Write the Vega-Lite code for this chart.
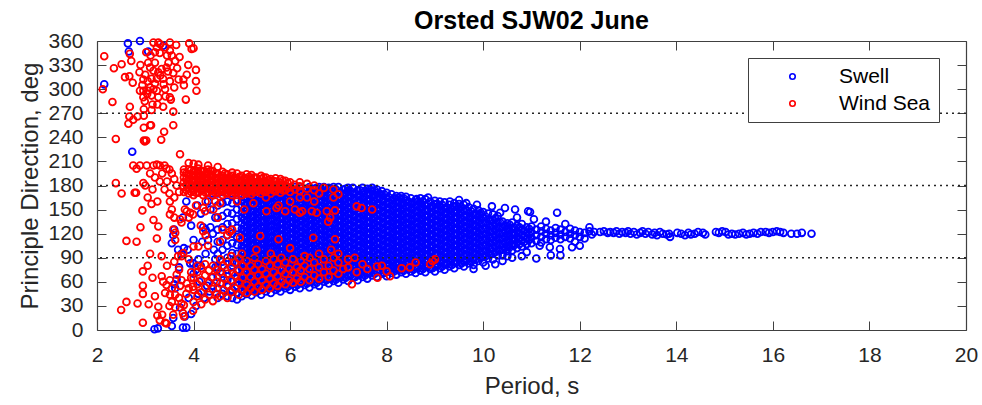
{
"$schema":"https://vega.github.io/schema/vega-lite/v6.json",
"width":869,"height":289,"autosize":"none",
"padding":{"left":97,"top":41,"right":16,"bottom":75},
"background":"white",
"title":{"text":"Orsted SJW02 June","fontSize":25,"fontWeight":"bold","font":"Liberation Sans","color":"#000000","anchor":"middle","offset":6,"dy":10},
"config":{"view":{"stroke":null},"font":"Liberation Sans"},
"datasets":{
"swell":[
{"p":2.64,"d":357},{"p":2.66,"d":347},{"p":2.89,"d":360},{"p":3.06,"d":347},{"p":2.15,"d":306},{"p":2.73,"d":222},{"p":3.37,"d":354},
{"p":3.19,"d":1},{"p":3.26,"d":2},{"p":3.55,"d":5},{"p":3.78,"d":3},{"p":3.85,"d":3},{"p":3.58,"d":15},{"p":3.82,"d":17},{"p":3.72,"d":28},{"p":3.62,"d":52},{"p":3.6,"d":57},{"p":3.65,"d":63},{"p":3.55,"d":108},{"p":3.58,"d":118},{"p":3.6,"d":125},{"p":3.68,"d":100},{"p":3.75,"d":95},{"p":3.8,"d":102},{"p":3.85,"d":160},{"p":3.88,"d":100},{"p":3.93,"d":83},{"p":3.99,"d":83},{"p":4,"d":70},{"p":4.05,"d":75},{"p":4.1,"d":88},{"p":4.15,"d":80},{"p":4.12,"d":60},{"p":4.2,"d":128},{"p":4.25,"d":125},{"p":4.35,"d":128},{"p":4.3,"d":112},{"p":4.18,"d":110},{"p":4.28,"d":55},{"p":4.33,"d":48},{"p":4.4,"d":55},{"p":4.22,"d":40},{"p":4.38,"d":65},{"p":4.45,"d":140},{"p":4.42,"d":100},{"p":4.35,"d":150},{"p":4.3,"d":160},{"p":4.4,"d":170},{"p":4.45,"d":78},{"p":4.15,"d":145},{"p":4.08,"d":155},{"p":3.95,"d":130},{"p":4,"d":112},{"p":3.7,"d":78},{"p":3.9,"d":40},{"p":4.05,"d":30},{"p":3.95,"d":20},{"p":4.1,"d":45},{"p":4.25,"d":95},{"p":4.4,"d":120},{"p":4.45,"d":88},{"p":3.78,"d":140},
{"p":4.5,"d":40},{"p":4.5,"d":52},{"p":4.5,"d":66},{"p":4.5,"d":78},{"p":4.5,"d":95},{"p":4.5,"d":110},{"p":4.5,"d":125},{"p":4.5,"d":140},{"p":4.5,"d":155},{"p":4.5,"d":170},
{"p":4.6,"d":45},{"p":4.6,"d":58},{"p":4.6,"d":70},{"p":4.6,"d":85},{"p":4.6,"d":100},{"p":4.6,"d":112},{"p":4.6,"d":128},{"p":4.6,"d":142},{"p":4.6,"d":158},{"p":4.6,"d":172},
{"p":4.7,"d":42},{"p":4.7,"d":55},{"p":4.7,"d":62},{"p":4.7,"d":75},{"p":4.7,"d":90},{"p":4.7,"d":105},{"p":4.7,"d":118},{"p":4.7,"d":132},{"p":4.7,"d":146},{"p":4.7,"d":160},{"p":4.7,"d":175},
{"p":4.8,"d":40},{"p":4.8,"d":50},{"p":4.8,"d":60},{"p":4.8,"d":72},{"p":4.8,"d":84},{"p":4.8,"d":96},{"p":4.8,"d":108},{"p":4.8,"d":120},{"p":4.8,"d":133},{"p":4.8,"d":145},{"p":4.8,"d":158},{"p":4.8,"d":170},
{"p":4.9,"d":38},{"p":4.9,"d":46},{"p":4.9,"d":55},{"p":4.9,"d":64},{"p":4.9,"d":74},{"p":4.9,"d":84},{"p":4.9,"d":95},{"p":4.9,"d":106},{"p":4.9,"d":116},{"p":4.9,"d":127},{"p":4.9,"d":138},{"p":4.9,"d":150},{"p":4.9,"d":162},{"p":4.9,"d":174},
{"p":5,"d":42},{"p":5,"d":49},{"p":5,"d":56},{"p":5,"d":63},{"p":5,"d":70},{"p":5,"d":77},{"p":5,"d":84},{"p":5,"d":91},{"p":5,"d":98},{"p":5,"d":105},{"p":5,"d":112},{"p":5,"d":119},{"p":5,"d":126},{"p":5,"d":133},{"p":5,"d":140},{"p":5,"d":147},{"p":5,"d":154},{"p":5,"d":161},{"p":5,"d":168},{"p":5,"d":175},
{"p":5.1,"d":45},{"p":5.1,"d":52},{"p":5.1,"d":59},{"p":5.1,"d":66},{"p":5.1,"d":73},{"p":5.1,"d":80},{"p":5.1,"d":87},{"p":5.1,"d":94},{"p":5.1,"d":101},{"p":5.1,"d":108},{"p":5.1,"d":115},{"p":5.1,"d":122},{"p":5.1,"d":129},{"p":5.1,"d":136},{"p":5.1,"d":143},{"p":5.1,"d":150},{"p":5.1,"d":157},{"p":5.1,"d":164},{"p":5.1,"d":171},{"p":5.1,"d":178},
{"p":5.2,"d":43},{"p":5.2,"d":50},{"p":5.2,"d":57},{"p":5.2,"d":64},{"p":5.2,"d":71},{"p":5.2,"d":78},{"p":5.2,"d":85},{"p":5.2,"d":92},{"p":5.2,"d":99},{"p":5.2,"d":106},{"p":5.2,"d":113},{"p":5.2,"d":120},{"p":5.2,"d":127},{"p":5.2,"d":134},{"p":5.2,"d":141},{"p":5.2,"d":148},{"p":5.2,"d":155},{"p":5.2,"d":162},{"p":5.2,"d":169},{"p":5.2,"d":176},
{"p":5.3,"d":47},{"p":5.3,"d":54},{"p":5.3,"d":61},{"p":5.3,"d":68},{"p":5.3,"d":75},{"p":5.3,"d":82},{"p":5.3,"d":89},{"p":5.3,"d":96},{"p":5.3,"d":103},{"p":5.3,"d":110},{"p":5.3,"d":117},{"p":5.3,"d":124},{"p":5.3,"d":131},{"p":5.3,"d":138},{"p":5.3,"d":145},{"p":5.3,"d":152},{"p":5.3,"d":159},{"p":5.3,"d":166},{"p":5.3,"d":173},{"p":5.3,"d":178},
{"p":5.4,"d":44},{"p":5.4,"d":51},{"p":5.4,"d":58},{"p":5.4,"d":65},{"p":5.4,"d":72},{"p":5.4,"d":79},{"p":5.4,"d":86},{"p":5.4,"d":93},{"p":5.4,"d":100},{"p":5.4,"d":107},{"p":5.4,"d":114},{"p":5.4,"d":121},{"p":5.4,"d":128},{"p":5.4,"d":135},{"p":5.4,"d":142},{"p":5.4,"d":149},{"p":5.4,"d":156},{"p":5.4,"d":163},{"p":5.4,"d":170},{"p":5.4,"d":177},
{"p":5.5,"d":48},{"p":5.5,"d":55},{"p":5.5,"d":62},{"p":5.5,"d":69},{"p":5.5,"d":76},{"p":5.5,"d":83},{"p":5.5,"d":90},{"p":5.5,"d":97},{"p":5.5,"d":104},{"p":5.5,"d":111},{"p":5.5,"d":118},{"p":5.5,"d":125},{"p":5.5,"d":132},{"p":5.5,"d":139},{"p":5.5,"d":146},{"p":5.5,"d":153},{"p":5.5,"d":160},{"p":5.5,"d":167},{"p":5.5,"d":174},{"p":5.5,"d":178},
{"p":5.6,"d":46},{"p":5.6,"d":53},{"p":5.6,"d":60},{"p":5.6,"d":67},{"p":5.6,"d":74},{"p":5.6,"d":81},{"p":5.6,"d":88},{"p":5.6,"d":95},{"p":5.6,"d":102},{"p":5.6,"d":109},{"p":5.6,"d":116},{"p":5.6,"d":123},{"p":5.6,"d":130},{"p":5.6,"d":137},{"p":5.6,"d":144},{"p":5.6,"d":151},{"p":5.6,"d":158},{"p":5.6,"d":165},{"p":5.6,"d":172},{"p":5.6,"d":178},
{"p":5.7,"d":50},{"p":5.7,"d":57},{"p":5.7,"d":64},{"p":5.7,"d":71},{"p":5.7,"d":78},{"p":5.7,"d":85},{"p":5.7,"d":92},{"p":5.7,"d":99},{"p":5.7,"d":106},{"p":5.7,"d":113},{"p":5.7,"d":120},{"p":5.7,"d":127},{"p":5.7,"d":134},{"p":5.7,"d":141},{"p":5.7,"d":148},{"p":5.7,"d":155},{"p":5.7,"d":162},{"p":5.7,"d":169},{"p":5.7,"d":176},
{"p":5.8,"d":48},{"p":5.8,"d":55},{"p":5.8,"d":62},{"p":5.8,"d":69},{"p":5.8,"d":76},{"p":5.8,"d":83},{"p":5.8,"d":90},{"p":5.8,"d":97},{"p":5.8,"d":104},{"p":5.8,"d":111},{"p":5.8,"d":118},{"p":5.8,"d":125},{"p":5.8,"d":132},{"p":5.8,"d":139},{"p":5.8,"d":146},{"p":5.8,"d":153},{"p":5.8,"d":160},{"p":5.8,"d":167},{"p":5.8,"d":174},{"p":5.8,"d":178},
{"p":5.9,"d":52},{"p":5.9,"d":59},{"p":5.9,"d":66},{"p":5.9,"d":73},{"p":5.9,"d":80},{"p":5.9,"d":87},{"p":5.9,"d":94},{"p":5.9,"d":101},{"p":5.9,"d":108},{"p":5.9,"d":115},{"p":5.9,"d":122},{"p":5.9,"d":129},{"p":5.9,"d":136},{"p":5.9,"d":143},{"p":5.9,"d":150},{"p":5.9,"d":157},{"p":5.9,"d":164},{"p":5.9,"d":171},{"p":5.9,"d":178},
{"p":6,"d":50},{"p":6,"d":57},{"p":6,"d":64},{"p":6,"d":71},{"p":6,"d":78},{"p":6,"d":85},{"p":6,"d":92},{"p":6,"d":99},{"p":6,"d":106},{"p":6,"d":113},{"p":6,"d":120},{"p":6,"d":127},{"p":6,"d":134},{"p":6,"d":141},{"p":6,"d":148},{"p":6,"d":155},{"p":6,"d":162},{"p":6,"d":169},{"p":6,"d":176},
{"p":6.1,"d":54},{"p":6.1,"d":61},{"p":6.1,"d":68},{"p":6.1,"d":75},{"p":6.1,"d":82},{"p":6.1,"d":89},{"p":6.1,"d":96},{"p":6.1,"d":103},{"p":6.1,"d":110},{"p":6.1,"d":117},{"p":6.1,"d":124},{"p":6.1,"d":131},{"p":6.1,"d":138},{"p":6.1,"d":145},{"p":6.1,"d":152},{"p":6.1,"d":159},{"p":6.1,"d":166},{"p":6.1,"d":173},{"p":6.1,"d":178},
{"p":6.2,"d":52},{"p":6.2,"d":59},{"p":6.2,"d":66},{"p":6.2,"d":73},{"p":6.2,"d":80},{"p":6.2,"d":87},{"p":6.2,"d":94},{"p":6.2,"d":101},{"p":6.2,"d":108},{"p":6.2,"d":115},{"p":6.2,"d":122},{"p":6.2,"d":129},{"p":6.2,"d":136},{"p":6.2,"d":143},{"p":6.2,"d":150},{"p":6.2,"d":157},{"p":6.2,"d":164},{"p":6.2,"d":171},{"p":6.2,"d":178},
{"p":6.3,"d":56},{"p":6.3,"d":63},{"p":6.3,"d":70},{"p":6.3,"d":77},{"p":6.3,"d":84},{"p":6.3,"d":91},{"p":6.3,"d":98},{"p":6.3,"d":105},{"p":6.3,"d":112},{"p":6.3,"d":119},{"p":6.3,"d":126},{"p":6.3,"d":133},{"p":6.3,"d":140},{"p":6.3,"d":147},{"p":6.3,"d":154},{"p":6.3,"d":161},{"p":6.3,"d":168},{"p":6.3,"d":175},
{"p":6.4,"d":53},{"p":6.4,"d":60},{"p":6.4,"d":67},{"p":6.4,"d":74},{"p":6.4,"d":81},{"p":6.4,"d":88},{"p":6.4,"d":95},{"p":6.4,"d":102},{"p":6.4,"d":109},{"p":6.4,"d":116},{"p":6.4,"d":123},{"p":6.4,"d":130},{"p":6.4,"d":137},{"p":6.4,"d":144},{"p":6.4,"d":151},{"p":6.4,"d":158},{"p":6.4,"d":165},{"p":6.4,"d":172},{"p":6.4,"d":178},
{"p":6.5,"d":57},{"p":6.5,"d":64},{"p":6.5,"d":71},{"p":6.5,"d":78},{"p":6.5,"d":85},{"p":6.5,"d":92},{"p":6.5,"d":99},{"p":6.5,"d":106},{"p":6.5,"d":113},{"p":6.5,"d":120},{"p":6.5,"d":127},{"p":6.5,"d":134},{"p":6.5,"d":141},{"p":6.5,"d":148},{"p":6.5,"d":155},{"p":6.5,"d":162},{"p":6.5,"d":169},{"p":6.5,"d":176},
{"p":6.6,"d":55},{"p":6.6,"d":62},{"p":6.6,"d":69},{"p":6.6,"d":76},{"p":6.6,"d":83},{"p":6.6,"d":90},{"p":6.6,"d":97},{"p":6.6,"d":104},{"p":6.6,"d":111},{"p":6.6,"d":118},{"p":6.6,"d":125},{"p":6.6,"d":132},{"p":6.6,"d":139},{"p":6.6,"d":146},{"p":6.6,"d":153},{"p":6.6,"d":160},{"p":6.6,"d":167},{"p":6.6,"d":174},{"p":6.6,"d":178},
{"p":6.7,"d":60},{"p":6.7,"d":67},{"p":6.7,"d":74},{"p":6.7,"d":81},{"p":6.7,"d":88},{"p":6.7,"d":95},{"p":6.7,"d":102},{"p":6.7,"d":109},{"p":6.7,"d":116},{"p":6.7,"d":123},{"p":6.7,"d":130},{"p":6.7,"d":137},{"p":6.7,"d":144},{"p":6.7,"d":151},{"p":6.7,"d":158},{"p":6.7,"d":165},{"p":6.7,"d":172},{"p":6.7,"d":178},
{"p":6.8,"d":58},{"p":6.8,"d":65},{"p":6.8,"d":72},{"p":6.8,"d":79},{"p":6.8,"d":86},{"p":6.8,"d":93},{"p":6.8,"d":100},{"p":6.8,"d":107},{"p":6.8,"d":114},{"p":6.8,"d":121},{"p":6.8,"d":128},{"p":6.8,"d":135},{"p":6.8,"d":142},{"p":6.8,"d":149},{"p":6.8,"d":156},{"p":6.8,"d":163},{"p":6.8,"d":170},{"p":6.8,"d":177},
{"p":6.9,"d":61},{"p":6.9,"d":68},{"p":6.9,"d":75},{"p":6.9,"d":82},{"p":6.9,"d":89},{"p":6.9,"d":96},{"p":6.9,"d":103},{"p":6.9,"d":110},{"p":6.9,"d":117},{"p":6.9,"d":124},{"p":6.9,"d":131},{"p":6.9,"d":138},{"p":6.9,"d":145},{"p":6.9,"d":152},{"p":6.9,"d":159},{"p":6.9,"d":166},{"p":6.9,"d":173},{"p":6.9,"d":178},
{"p":7,"d":59},{"p":7,"d":66},{"p":7,"d":73},{"p":7,"d":80},{"p":7,"d":87},{"p":7,"d":94},{"p":7,"d":101},{"p":7,"d":108},{"p":7,"d":115},{"p":7,"d":122},{"p":7,"d":129},{"p":7,"d":136},{"p":7,"d":143},{"p":7,"d":150},{"p":7,"d":157},{"p":7,"d":164},{"p":7,"d":171},{"p":7,"d":178},
{"p":7.1,"d":63},{"p":7.1,"d":70},{"p":7.1,"d":77},{"p":7.1,"d":84},{"p":7.1,"d":91},{"p":7.1,"d":98},{"p":7.1,"d":105},{"p":7.1,"d":112},{"p":7.1,"d":119},{"p":7.1,"d":126},{"p":7.1,"d":133},{"p":7.1,"d":140},{"p":7.1,"d":147},{"p":7.1,"d":154},{"p":7.1,"d":161},{"p":7.1,"d":168},{"p":7.1,"d":175},
{"p":7.2,"d":61},{"p":7.2,"d":68},{"p":7.2,"d":75},{"p":7.2,"d":82},{"p":7.2,"d":89},{"p":7.2,"d":96},{"p":7.2,"d":103},{"p":7.2,"d":110},{"p":7.2,"d":117},{"p":7.2,"d":124},{"p":7.2,"d":131},{"p":7.2,"d":138},{"p":7.2,"d":145},{"p":7.2,"d":152},{"p":7.2,"d":159},{"p":7.2,"d":166},{"p":7.2,"d":173},{"p":7.2,"d":177},
{"p":7.3,"d":65},{"p":7.3,"d":72},{"p":7.3,"d":79},{"p":7.3,"d":86},{"p":7.3,"d":93},{"p":7.3,"d":100},{"p":7.3,"d":107},{"p":7.3,"d":114},{"p":7.3,"d":121},{"p":7.3,"d":128},{"p":7.3,"d":135},{"p":7.3,"d":142},{"p":7.3,"d":149},{"p":7.3,"d":156},{"p":7.3,"d":163},{"p":7.3,"d":170},{"p":7.3,"d":177},
{"p":7.4,"d":62},{"p":7.4,"d":69},{"p":7.4,"d":76},{"p":7.4,"d":83},{"p":7.4,"d":90},{"p":7.4,"d":97},{"p":7.4,"d":104},{"p":7.4,"d":111},{"p":7.4,"d":118},{"p":7.4,"d":125},{"p":7.4,"d":132},{"p":7.4,"d":139},{"p":7.4,"d":146},{"p":7.4,"d":153},{"p":7.4,"d":160},{"p":7.4,"d":167},{"p":7.4,"d":174},
{"p":7.5,"d":66},{"p":7.5,"d":73},{"p":7.5,"d":80},{"p":7.5,"d":87},{"p":7.5,"d":94},{"p":7.5,"d":101},{"p":7.5,"d":108},{"p":7.5,"d":115},{"p":7.5,"d":122},{"p":7.5,"d":129},{"p":7.5,"d":136},{"p":7.5,"d":143},{"p":7.5,"d":150},{"p":7.5,"d":157},{"p":7.5,"d":164},{"p":7.5,"d":171},{"p":7.5,"d":177},
{"p":7.6,"d":64},{"p":7.6,"d":71},{"p":7.6,"d":78},{"p":7.6,"d":85},{"p":7.6,"d":92},{"p":7.6,"d":99},{"p":7.6,"d":106},{"p":7.6,"d":113},{"p":7.6,"d":120},{"p":7.6,"d":127},{"p":7.6,"d":134},{"p":7.6,"d":141},{"p":7.6,"d":148},{"p":7.6,"d":155},{"p":7.6,"d":162},{"p":7.6,"d":169},{"p":7.6,"d":176},
{"p":7.7,"d":68},{"p":7.7,"d":75},{"p":7.7,"d":82},{"p":7.7,"d":89},{"p":7.7,"d":96},{"p":7.7,"d":103},{"p":7.7,"d":110},{"p":7.7,"d":117},{"p":7.7,"d":124},{"p":7.7,"d":131},{"p":7.7,"d":138},{"p":7.7,"d":145},{"p":7.7,"d":152},{"p":7.7,"d":159},{"p":7.7,"d":166},{"p":7.7,"d":173},{"p":7.7,"d":177},
{"p":7.8,"d":66},{"p":7.8,"d":73},{"p":7.8,"d":80},{"p":7.8,"d":87},{"p":7.8,"d":94},{"p":7.8,"d":101},{"p":7.8,"d":108},{"p":7.8,"d":115},{"p":7.8,"d":122},{"p":7.8,"d":129},{"p":7.8,"d":136},{"p":7.8,"d":143},{"p":7.8,"d":150},{"p":7.8,"d":157},{"p":7.8,"d":164},{"p":7.8,"d":171},{"p":7.8,"d":175},
{"p":7.9,"d":70},{"p":7.9,"d":77},{"p":7.9,"d":84},{"p":7.9,"d":91},{"p":7.9,"d":98},{"p":7.9,"d":105},{"p":7.9,"d":112},{"p":7.9,"d":119},{"p":7.9,"d":126},{"p":7.9,"d":133},{"p":7.9,"d":140},{"p":7.9,"d":147},{"p":7.9,"d":154},{"p":7.9,"d":161},{"p":7.9,"d":168},{"p":7.9,"d":173},
{"p":8,"d":67},{"p":8,"d":74},{"p":8,"d":81},{"p":8,"d":88},{"p":8,"d":95},{"p":8,"d":102},{"p":8,"d":109},{"p":8,"d":116},{"p":8,"d":123},{"p":8,"d":130},{"p":8,"d":137},{"p":8,"d":144},{"p":8,"d":151},{"p":8,"d":158},{"p":8,"d":165},{"p":8,"d":171},
{"p":8.1,"d":71},{"p":8.1,"d":78},{"p":8.1,"d":85},{"p":8.1,"d":92},{"p":8.1,"d":99},{"p":8.1,"d":106},{"p":8.1,"d":113},{"p":8.1,"d":120},{"p":8.1,"d":127},{"p":8.1,"d":134},{"p":8.1,"d":141},{"p":8.1,"d":148},{"p":8.1,"d":155},{"p":8.1,"d":162},{"p":8.1,"d":169},
{"p":8.2,"d":69},{"p":8.2,"d":76},{"p":8.2,"d":83},{"p":8.2,"d":90},{"p":8.2,"d":97},{"p":8.2,"d":104},{"p":8.2,"d":111},{"p":8.2,"d":118},{"p":8.2,"d":125},{"p":8.2,"d":132},{"p":8.2,"d":139},{"p":8.2,"d":146},{"p":8.2,"d":153},{"p":8.2,"d":160},{"p":8.2,"d":167},
{"p":8.3,"d":72},{"p":8.3,"d":79},{"p":8.3,"d":86},{"p":8.3,"d":93},{"p":8.3,"d":100},{"p":8.3,"d":107},{"p":8.3,"d":114},{"p":8.3,"d":121},{"p":8.3,"d":128},{"p":8.3,"d":135},{"p":8.3,"d":142},{"p":8.3,"d":149},{"p":8.3,"d":156},{"p":8.3,"d":163},{"p":8.3,"d":167},
{"p":8.4,"d":70},{"p":8.4,"d":77},{"p":8.4,"d":84},{"p":8.4,"d":91},{"p":8.4,"d":98},{"p":8.4,"d":105},{"p":8.4,"d":112},{"p":8.4,"d":119},{"p":8.4,"d":126},{"p":8.4,"d":133},{"p":8.4,"d":140},{"p":8.4,"d":147},{"p":8.4,"d":154},{"p":8.4,"d":161},{"p":8.4,"d":166},
{"p":8.5,"d":73},{"p":8.5,"d":80},{"p":8.5,"d":87},{"p":8.5,"d":94},{"p":8.5,"d":101},{"p":8.5,"d":108},{"p":8.5,"d":115},{"p":8.5,"d":122},{"p":8.5,"d":129},{"p":8.5,"d":136},{"p":8.5,"d":143},{"p":8.5,"d":150},{"p":8.5,"d":157},{"p":8.5,"d":164},
{"p":8.6,"d":71},{"p":8.6,"d":78},{"p":8.6,"d":85},{"p":8.6,"d":92},{"p":8.6,"d":99},{"p":8.6,"d":106},{"p":8.6,"d":113},{"p":8.6,"d":120},{"p":8.6,"d":127},{"p":8.6,"d":134},{"p":8.6,"d":141},{"p":8.6,"d":148},{"p":8.6,"d":155},{"p":8.6,"d":162},
{"p":8.7,"d":74},{"p":8.7,"d":81},{"p":8.7,"d":88},{"p":8.7,"d":95},{"p":8.7,"d":102},{"p":8.7,"d":109},{"p":8.7,"d":116},{"p":8.7,"d":123},{"p":8.7,"d":130},{"p":8.7,"d":137},{"p":8.7,"d":144},{"p":8.7,"d":151},{"p":8.7,"d":158},{"p":8.7,"d":164},
{"p":8.8,"d":72},{"p":8.8,"d":79},{"p":8.8,"d":86},{"p":8.8,"d":93},{"p":8.8,"d":100},{"p":8.8,"d":107},{"p":8.8,"d":114},{"p":8.8,"d":121},{"p":8.8,"d":128},{"p":8.8,"d":135},{"p":8.8,"d":142},{"p":8.8,"d":149},{"p":8.8,"d":156},{"p":8.8,"d":163},
{"p":8.9,"d":76},{"p":8.9,"d":83},{"p":8.9,"d":90},{"p":8.9,"d":97},{"p":8.9,"d":104},{"p":8.9,"d":111},{"p":8.9,"d":118},{"p":8.9,"d":125},{"p":8.9,"d":132},{"p":8.9,"d":139},{"p":8.9,"d":146},{"p":8.9,"d":153},{"p":8.9,"d":160},
{"p":9,"d":73},{"p":9,"d":80},{"p":9,"d":87},{"p":9,"d":94},{"p":9,"d":101},{"p":9,"d":108},{"p":9,"d":115},{"p":9,"d":122},{"p":9,"d":129},{"p":9,"d":136},{"p":9,"d":143},{"p":9,"d":150},{"p":9,"d":157},{"p":9,"d":161},
{"p":9.1,"d":77},{"p":9.1,"d":84},{"p":9.1,"d":91},{"p":9.1,"d":98},{"p":9.1,"d":105},{"p":9.1,"d":112},{"p":9.1,"d":119},{"p":9.1,"d":126},{"p":9.1,"d":133},{"p":9.1,"d":140},{"p":9.1,"d":147},{"p":9.1,"d":154},{"p":9.1,"d":160},
{"p":9.2,"d":75},{"p":9.2,"d":82},{"p":9.2,"d":89},{"p":9.2,"d":96},{"p":9.2,"d":103},{"p":9.2,"d":110},{"p":9.2,"d":117},{"p":9.2,"d":124},{"p":9.2,"d":131},{"p":9.2,"d":138},{"p":9.2,"d":145},{"p":9.2,"d":152},{"p":9.2,"d":159},
{"p":9.3,"d":79},{"p":9.3,"d":86},{"p":9.3,"d":93},{"p":9.3,"d":100},{"p":9.3,"d":107},{"p":9.3,"d":114},{"p":9.3,"d":121},{"p":9.3,"d":128},{"p":9.3,"d":135},{"p":9.3,"d":142},{"p":9.3,"d":149},{"p":9.3,"d":156},
{"p":9.4,"d":77},{"p":9.4,"d":84},{"p":9.4,"d":91},{"p":9.4,"d":98},{"p":9.4,"d":105},{"p":9.4,"d":112},{"p":9.4,"d":119},{"p":9.4,"d":126},{"p":9.4,"d":133},{"p":9.4,"d":140},{"p":9.4,"d":147},{"p":9.4,"d":154},{"p":9.4,"d":158},
{"p":9.5,"d":81},{"p":9.5,"d":88},{"p":9.5,"d":95},{"p":9.5,"d":102},{"p":9.5,"d":109},{"p":9.5,"d":116},{"p":9.5,"d":123},{"p":9.5,"d":130},{"p":9.5,"d":137},{"p":9.5,"d":144},{"p":9.5,"d":151},{"p":9.5,"d":157},
{"p":9.6,"d":79},{"p":9.6,"d":86},{"p":9.6,"d":93},{"p":9.6,"d":100},{"p":9.6,"d":107},{"p":9.6,"d":114},{"p":9.6,"d":121},{"p":9.6,"d":128},{"p":9.6,"d":135},{"p":9.6,"d":142},{"p":9.6,"d":149},{"p":9.6,"d":156},
{"p":9.7,"d":83},{"p":9.7,"d":90},{"p":9.7,"d":97},{"p":9.7,"d":104},{"p":9.7,"d":111},{"p":9.7,"d":118},{"p":9.7,"d":125},{"p":9.7,"d":132},{"p":9.7,"d":139},{"p":9.7,"d":146},{"p":9.7,"d":153},
{"p":9.8,"d":81},{"p":9.8,"d":88},{"p":9.8,"d":95},{"p":9.8,"d":102},{"p":9.8,"d":109},{"p":9.8,"d":116},{"p":9.8,"d":123},{"p":9.8,"d":130},{"p":9.8,"d":137},{"p":9.8,"d":144},{"p":9.8,"d":151},
{"p":9.9,"d":86},{"p":9.9,"d":93},{"p":9.9,"d":100},{"p":9.9,"d":107},{"p":9.9,"d":114},{"p":9.9,"d":121},{"p":9.9,"d":128},{"p":9.9,"d":135},{"p":9.9,"d":142},{"p":9.9,"d":149},
{"p":10,"d":84},{"p":10,"d":91},{"p":10,"d":98},{"p":10,"d":105},{"p":10,"d":112},{"p":10,"d":119},{"p":10,"d":126},{"p":10,"d":133},{"p":10,"d":140},{"p":10,"d":147},
{"p":10.1,"d":89},{"p":10.1,"d":96},{"p":10.1,"d":103},{"p":10.1,"d":110},{"p":10.1,"d":117},{"p":10.1,"d":124},{"p":10.1,"d":131},{"p":10.1,"d":138},{"p":10.1,"d":145},
{"p":10.2,"d":88},{"p":10.2,"d":95},{"p":10.2,"d":102},{"p":10.2,"d":109},{"p":10.2,"d":116},{"p":10.2,"d":123},{"p":10.2,"d":130},{"p":10.2,"d":137},{"p":10.2,"d":144},
{"p":10.3,"d":93},{"p":10.3,"d":100},{"p":10.3,"d":107},{"p":10.3,"d":114},{"p":10.3,"d":121},{"p":10.3,"d":128},{"p":10.3,"d":135},{"p":10.3,"d":142},
{"p":10.4,"d":93},{"p":10.4,"d":100},{"p":10.4,"d":107},{"p":10.4,"d":114},{"p":10.4,"d":121},{"p":10.4,"d":128},{"p":10.4,"d":135},
{"p":10.5,"d":98},{"p":10.5,"d":105},{"p":10.5,"d":112},{"p":10.5,"d":119},{"p":10.5,"d":126},{"p":10.5,"d":133},
{"p":10.6,"d":99},{"p":10.6,"d":106},{"p":10.6,"d":113},{"p":10.6,"d":120},{"p":10.6,"d":127},{"p":10.6,"d":134},
{"p":10.7,"d":102},{"p":10.7,"d":109},{"p":10.7,"d":116},{"p":10.7,"d":123},{"p":10.7,"d":130},
{"p":10.8,"d":104},{"p":10.8,"d":111},{"p":10.8,"d":118},{"p":10.8,"d":125},{"p":10.8,"d":132},
{"p":10.9,"d":107},{"p":10.9,"d":114},{"p":10.9,"d":121},{"p":10.9,"d":128},
{"p":11,"d":108},{"p":11,"d":115},{"p":11,"d":122},{"p":11,"d":129},
{"p":11.1,"d":111},{"p":11.1,"d":118},{"p":11.1,"d":125},
{"p":11.2,"d":109},{"p":11.2,"d":116},{"p":11.2,"d":123},{"p":11.2,"d":129},
{"p":11.3,"d":113},{"p":11.3,"d":120},{"p":11.3,"d":126},
{"p":11.4,"d":112},{"p":11.4,"d":118},{"p":11.4,"d":124},
{"p":11.5,"d":115},{"p":11.5,"d":121},{"p":11.5,"d":127},
{"p":11.6,"d":113},{"p":11.6,"d":119},{"p":11.6,"d":125},
{"p":11.7,"d":116},{"p":11.7,"d":122},
{"p":11.8,"d":114},{"p":11.8,"d":120},{"p":11.8,"d":126},
{"p":11.9,"d":118},{"p":11.9,"d":124},
{"p":12,"d":116},{"p":12,"d":122},
{"p":5.05,"d":46},{"p":5.05,"d":53},{"p":5.05,"d":60},{"p":5.05,"d":67},{"p":5.05,"d":74},{"p":5.05,"d":81},{"p":5.05,"d":88},{"p":5.05,"d":95},{"p":5.05,"d":102},{"p":5.05,"d":109},{"p":5.05,"d":116},{"p":5.05,"d":123},{"p":5.05,"d":130},{"p":5.05,"d":137},{"p":5.05,"d":144},{"p":5.05,"d":151},{"p":5.05,"d":158},{"p":5.05,"d":165},{"p":5.05,"d":172},
{"p":5.15,"d":48},{"p":5.15,"d":55},{"p":5.15,"d":62},{"p":5.15,"d":69},{"p":5.15,"d":76},{"p":5.15,"d":83},{"p":5.15,"d":90},{"p":5.15,"d":97},{"p":5.15,"d":104},{"p":5.15,"d":111},{"p":5.15,"d":118},{"p":5.15,"d":125},{"p":5.15,"d":132},{"p":5.15,"d":139},{"p":5.15,"d":146},{"p":5.15,"d":153},{"p":5.15,"d":160},{"p":5.15,"d":167},{"p":5.15,"d":174},
{"p":5.25,"d":50},{"p":5.25,"d":57},{"p":5.25,"d":64},{"p":5.25,"d":71},{"p":5.25,"d":78},{"p":5.25,"d":85},{"p":5.25,"d":92},{"p":5.25,"d":99},{"p":5.25,"d":106},{"p":5.25,"d":113},{"p":5.25,"d":120},{"p":5.25,"d":127},{"p":5.25,"d":134},{"p":5.25,"d":141},{"p":5.25,"d":148},{"p":5.25,"d":155},{"p":5.25,"d":162},{"p":5.25,"d":169},{"p":5.25,"d":176},
{"p":5.35,"d":49},{"p":5.35,"d":56},{"p":5.35,"d":63},{"p":5.35,"d":70},{"p":5.35,"d":77},{"p":5.35,"d":84},{"p":5.35,"d":91},{"p":5.35,"d":98},{"p":5.35,"d":105},{"p":5.35,"d":112},{"p":5.35,"d":119},{"p":5.35,"d":126},{"p":5.35,"d":133},{"p":5.35,"d":140},{"p":5.35,"d":147},{"p":5.35,"d":154},{"p":5.35,"d":161},{"p":5.35,"d":168},{"p":5.35,"d":175},
{"p":5.45,"d":51},{"p":5.45,"d":58},{"p":5.45,"d":65},{"p":5.45,"d":72},{"p":5.45,"d":79},{"p":5.45,"d":86},{"p":5.45,"d":93},{"p":5.45,"d":100},{"p":5.45,"d":107},{"p":5.45,"d":114},{"p":5.45,"d":121},{"p":5.45,"d":128},{"p":5.45,"d":135},{"p":5.45,"d":142},{"p":5.45,"d":149},{"p":5.45,"d":156},{"p":5.45,"d":163},{"p":5.45,"d":170},{"p":5.45,"d":176},
{"p":5.55,"d":52},{"p":5.55,"d":59},{"p":5.55,"d":66},{"p":5.55,"d":73},{"p":5.55,"d":80},{"p":5.55,"d":87},{"p":5.55,"d":94},{"p":5.55,"d":101},{"p":5.55,"d":108},{"p":5.55,"d":115},{"p":5.55,"d":122},{"p":5.55,"d":129},{"p":5.55,"d":136},{"p":5.55,"d":143},{"p":5.55,"d":150},{"p":5.55,"d":157},{"p":5.55,"d":164},{"p":5.55,"d":171},{"p":5.55,"d":177},
{"p":5.65,"d":53},{"p":5.65,"d":60},{"p":5.65,"d":67},{"p":5.65,"d":74},{"p":5.65,"d":81},{"p":5.65,"d":88},{"p":5.65,"d":95},{"p":5.65,"d":102},{"p":5.65,"d":109},{"p":5.65,"d":116},{"p":5.65,"d":123},{"p":5.65,"d":130},{"p":5.65,"d":137},{"p":5.65,"d":144},{"p":5.65,"d":151},{"p":5.65,"d":158},{"p":5.65,"d":165},{"p":5.65,"d":172},
{"p":5.75,"d":52},{"p":5.75,"d":59},{"p":5.75,"d":66},{"p":5.75,"d":73},{"p":5.75,"d":80},{"p":5.75,"d":87},{"p":5.75,"d":94},{"p":5.75,"d":101},{"p":5.75,"d":108},{"p":5.75,"d":115},{"p":5.75,"d":122},{"p":5.75,"d":129},{"p":5.75,"d":136},{"p":5.75,"d":143},{"p":5.75,"d":150},{"p":5.75,"d":157},{"p":5.75,"d":164},{"p":5.75,"d":171},{"p":5.75,"d":177},
{"p":5.85,"d":55},{"p":5.85,"d":62},{"p":5.85,"d":69},{"p":5.85,"d":76},{"p":5.85,"d":83},{"p":5.85,"d":90},{"p":5.85,"d":97},{"p":5.85,"d":104},{"p":5.85,"d":111},{"p":5.85,"d":118},{"p":5.85,"d":125},{"p":5.85,"d":132},{"p":5.85,"d":139},{"p":5.85,"d":146},{"p":5.85,"d":153},{"p":5.85,"d":160},{"p":5.85,"d":167},{"p":5.85,"d":174},
{"p":5.95,"d":54},{"p":5.95,"d":61},{"p":5.95,"d":68},{"p":5.95,"d":75},{"p":5.95,"d":82},{"p":5.95,"d":89},{"p":5.95,"d":96},{"p":5.95,"d":103},{"p":5.95,"d":110},{"p":5.95,"d":117},{"p":5.95,"d":124},{"p":5.95,"d":131},{"p":5.95,"d":138},{"p":5.95,"d":145},{"p":5.95,"d":152},{"p":5.95,"d":159},{"p":5.95,"d":166},{"p":5.95,"d":173},
{"p":6.05,"d":57},{"p":6.05,"d":64},{"p":6.05,"d":71},{"p":6.05,"d":78},{"p":6.05,"d":85},{"p":6.05,"d":92},{"p":6.05,"d":99},{"p":6.05,"d":106},{"p":6.05,"d":113},{"p":6.05,"d":120},{"p":6.05,"d":127},{"p":6.05,"d":134},{"p":6.05,"d":141},{"p":6.05,"d":148},{"p":6.05,"d":155},{"p":6.05,"d":162},{"p":6.05,"d":169},{"p":6.05,"d":175},
{"p":6.15,"d":56},{"p":6.15,"d":63},{"p":6.15,"d":70},{"p":6.15,"d":77},{"p":6.15,"d":84},{"p":6.15,"d":91},{"p":6.15,"d":98},{"p":6.15,"d":105},{"p":6.15,"d":112},{"p":6.15,"d":119},{"p":6.15,"d":126},{"p":6.15,"d":133},{"p":6.15,"d":140},{"p":6.15,"d":147},{"p":6.15,"d":154},{"p":6.15,"d":161},{"p":6.15,"d":168},{"p":6.15,"d":175},
{"p":6.25,"d":59},{"p":6.25,"d":66},{"p":6.25,"d":73},{"p":6.25,"d":80},{"p":6.25,"d":87},{"p":6.25,"d":94},{"p":6.25,"d":101},{"p":6.25,"d":108},{"p":6.25,"d":115},{"p":6.25,"d":122},{"p":6.25,"d":129},{"p":6.25,"d":136},{"p":6.25,"d":143},{"p":6.25,"d":150},{"p":6.25,"d":157},{"p":6.25,"d":164},{"p":6.25,"d":171},
{"p":6.35,"d":58},{"p":6.35,"d":65},{"p":6.35,"d":72},{"p":6.35,"d":79},{"p":6.35,"d":86},{"p":6.35,"d":93},{"p":6.35,"d":100},{"p":6.35,"d":107},{"p":6.35,"d":114},{"p":6.35,"d":121},{"p":6.35,"d":128},{"p":6.35,"d":135},{"p":6.35,"d":142},{"p":6.35,"d":149},{"p":6.35,"d":156},{"p":6.35,"d":163},{"p":6.35,"d":170},{"p":6.35,"d":176},
{"p":6.45,"d":60},{"p":6.45,"d":67},{"p":6.45,"d":74},{"p":6.45,"d":81},{"p":6.45,"d":88},{"p":6.45,"d":95},{"p":6.45,"d":102},{"p":6.45,"d":109},{"p":6.45,"d":116},{"p":6.45,"d":123},{"p":6.45,"d":130},{"p":6.45,"d":137},{"p":6.45,"d":144},{"p":6.45,"d":151},{"p":6.45,"d":158},{"p":6.45,"d":165},{"p":6.45,"d":172},
{"p":6.55,"d":59},{"p":6.55,"d":66},{"p":6.55,"d":73},{"p":6.55,"d":80},{"p":6.55,"d":87},{"p":6.55,"d":94},{"p":6.55,"d":101},{"p":6.55,"d":108},{"p":6.55,"d":115},{"p":6.55,"d":122},{"p":6.55,"d":129},{"p":6.55,"d":136},{"p":6.55,"d":143},{"p":6.55,"d":150},{"p":6.55,"d":157},{"p":6.55,"d":164},{"p":6.55,"d":171},{"p":6.55,"d":177},
{"p":6.65,"d":63},{"p":6.65,"d":70},{"p":6.65,"d":77},{"p":6.65,"d":84},{"p":6.65,"d":91},{"p":6.65,"d":98},{"p":6.65,"d":105},{"p":6.65,"d":112},{"p":6.65,"d":119},{"p":6.65,"d":126},{"p":6.65,"d":133},{"p":6.65,"d":140},{"p":6.65,"d":147},{"p":6.65,"d":154},{"p":6.65,"d":161},{"p":6.65,"d":168},{"p":6.65,"d":175},
{"p":6.75,"d":62},{"p":6.75,"d":69},{"p":6.75,"d":76},{"p":6.75,"d":83},{"p":6.75,"d":90},{"p":6.75,"d":97},{"p":6.75,"d":104},{"p":6.75,"d":111},{"p":6.75,"d":118},{"p":6.75,"d":125},{"p":6.75,"d":132},{"p":6.75,"d":139},{"p":6.75,"d":146},{"p":6.75,"d":153},{"p":6.75,"d":160},{"p":6.75,"d":167},{"p":6.75,"d":174},
{"p":6.85,"d":64},{"p":6.85,"d":71},{"p":6.85,"d":78},{"p":6.85,"d":85},{"p":6.85,"d":92},{"p":6.85,"d":99},{"p":6.85,"d":106},{"p":6.85,"d":113},{"p":6.85,"d":120},{"p":6.85,"d":127},{"p":6.85,"d":134},{"p":6.85,"d":141},{"p":6.85,"d":148},{"p":6.85,"d":155},{"p":6.85,"d":162},{"p":6.85,"d":169},{"p":6.85,"d":176},
{"p":6.95,"d":63},{"p":6.95,"d":70},{"p":6.95,"d":77},{"p":6.95,"d":84},{"p":6.95,"d":91},{"p":6.95,"d":98},{"p":6.95,"d":105},{"p":6.95,"d":112},{"p":6.95,"d":119},{"p":6.95,"d":126},{"p":6.95,"d":133},{"p":6.95,"d":140},{"p":6.95,"d":147},{"p":6.95,"d":154},{"p":6.95,"d":161},{"p":6.95,"d":168},{"p":6.95,"d":175},
{"p":7.05,"d":66},{"p":7.05,"d":73},{"p":7.05,"d":80},{"p":7.05,"d":87},{"p":7.05,"d":94},{"p":7.05,"d":101},{"p":7.05,"d":108},{"p":7.05,"d":115},{"p":7.05,"d":122},{"p":7.05,"d":129},{"p":7.05,"d":136},{"p":7.05,"d":143},{"p":7.05,"d":150},{"p":7.05,"d":157},{"p":7.05,"d":164},{"p":7.05,"d":171},
{"p":7.15,"d":65},{"p":7.15,"d":72},{"p":7.15,"d":79},{"p":7.15,"d":86},{"p":7.15,"d":93},{"p":7.15,"d":100},{"p":7.15,"d":107},{"p":7.15,"d":114},{"p":7.15,"d":121},{"p":7.15,"d":128},{"p":7.15,"d":135},{"p":7.15,"d":142},{"p":7.15,"d":149},{"p":7.15,"d":156},{"p":7.15,"d":163},{"p":7.15,"d":170},{"p":7.15,"d":176},
{"p":7.25,"d":68},{"p":7.25,"d":75},{"p":7.25,"d":82},{"p":7.25,"d":89},{"p":7.25,"d":96},{"p":7.25,"d":103},{"p":7.25,"d":110},{"p":7.25,"d":117},{"p":7.25,"d":124},{"p":7.25,"d":131},{"p":7.25,"d":138},{"p":7.25,"d":145},{"p":7.25,"d":152},{"p":7.25,"d":159},{"p":7.25,"d":166},{"p":7.25,"d":173},
{"p":7.35,"d":66},{"p":7.35,"d":73},{"p":7.35,"d":80},{"p":7.35,"d":87},{"p":7.35,"d":94},{"p":7.35,"d":101},{"p":7.35,"d":108},{"p":7.35,"d":115},{"p":7.35,"d":122},{"p":7.35,"d":129},{"p":7.35,"d":136},{"p":7.35,"d":143},{"p":7.35,"d":150},{"p":7.35,"d":157},{"p":7.35,"d":164},{"p":7.35,"d":171},
{"p":7.45,"d":69},{"p":7.45,"d":76},{"p":7.45,"d":83},{"p":7.45,"d":90},{"p":7.45,"d":97},{"p":7.45,"d":104},{"p":7.45,"d":111},{"p":7.45,"d":118},{"p":7.45,"d":125},{"p":7.45,"d":132},{"p":7.45,"d":139},{"p":7.45,"d":146},{"p":7.45,"d":153},{"p":7.45,"d":160},{"p":7.45,"d":167},{"p":7.45,"d":174},
{"p":7.55,"d":68},{"p":7.55,"d":75},{"p":7.55,"d":82},{"p":7.55,"d":89},{"p":7.55,"d":96},{"p":7.55,"d":103},{"p":7.55,"d":110},{"p":7.55,"d":117},{"p":7.55,"d":124},{"p":7.55,"d":131},{"p":7.55,"d":138},{"p":7.55,"d":145},{"p":7.55,"d":152},{"p":7.55,"d":159},{"p":7.55,"d":166},{"p":7.55,"d":173},
{"p":7.65,"d":71},{"p":7.65,"d":78},{"p":7.65,"d":85},{"p":7.65,"d":92},{"p":7.65,"d":99},{"p":7.65,"d":106},{"p":7.65,"d":113},{"p":7.65,"d":120},{"p":7.65,"d":127},{"p":7.65,"d":134},{"p":7.65,"d":141},{"p":7.65,"d":148},{"p":7.65,"d":155},{"p":7.65,"d":162},{"p":7.65,"d":169},{"p":7.65,"d":175},
{"p":7.75,"d":70},{"p":7.75,"d":77},{"p":7.75,"d":84},{"p":7.75,"d":91},{"p":7.75,"d":98},{"p":7.75,"d":105},{"p":7.75,"d":112},{"p":7.75,"d":119},{"p":7.75,"d":126},{"p":7.75,"d":133},{"p":7.75,"d":140},{"p":7.75,"d":147},{"p":7.75,"d":154},{"p":7.75,"d":161},{"p":7.75,"d":168},{"p":7.75,"d":174},
{"p":7.85,"d":73},{"p":7.85,"d":80},{"p":7.85,"d":87},{"p":7.85,"d":94},{"p":7.85,"d":101},{"p":7.85,"d":108},{"p":7.85,"d":115},{"p":7.85,"d":122},{"p":7.85,"d":129},{"p":7.85,"d":136},{"p":7.85,"d":143},{"p":7.85,"d":150},{"p":7.85,"d":157},{"p":7.85,"d":164},{"p":7.85,"d":170},
{"p":7.95,"d":71},{"p":7.95,"d":78},{"p":7.95,"d":85},{"p":7.95,"d":92},{"p":7.95,"d":99},{"p":7.95,"d":106},{"p":7.95,"d":113},{"p":7.95,"d":120},{"p":7.95,"d":127},{"p":7.95,"d":134},{"p":7.95,"d":141},{"p":7.95,"d":148},{"p":7.95,"d":155},{"p":7.95,"d":162},{"p":7.95,"d":169},
{"p":8.05,"d":74},{"p":8.05,"d":81},{"p":8.05,"d":88},{"p":8.05,"d":95},{"p":8.05,"d":102},{"p":8.05,"d":109},{"p":8.05,"d":116},{"p":8.05,"d":123},{"p":8.05,"d":130},{"p":8.05,"d":137},{"p":8.05,"d":144},{"p":8.05,"d":151},{"p":8.05,"d":158},{"p":8.05,"d":165},
{"p":8.15,"d":73},{"p":8.15,"d":80},{"p":8.15,"d":87},{"p":8.15,"d":94},{"p":8.15,"d":101},{"p":8.15,"d":108},{"p":8.15,"d":115},{"p":8.15,"d":122},{"p":8.15,"d":129},{"p":8.15,"d":136},{"p":8.15,"d":143},{"p":8.15,"d":150},{"p":8.15,"d":157},{"p":8.15,"d":164},
{"p":8.25,"d":75},{"p":8.25,"d":82},{"p":8.25,"d":89},{"p":8.25,"d":96},{"p":8.25,"d":103},{"p":8.25,"d":110},{"p":8.25,"d":117},{"p":8.25,"d":124},{"p":8.25,"d":131},{"p":8.25,"d":138},{"p":8.25,"d":145},{"p":8.25,"d":152},{"p":8.25,"d":159},{"p":8.25,"d":165},
{"p":8.35,"d":74},{"p":8.35,"d":81},{"p":8.35,"d":88},{"p":8.35,"d":95},{"p":8.35,"d":102},{"p":8.35,"d":109},{"p":8.35,"d":116},{"p":8.35,"d":123},{"p":8.35,"d":130},{"p":8.35,"d":137},{"p":8.35,"d":144},{"p":8.35,"d":151},{"p":8.35,"d":158},{"p":8.35,"d":164},
{"p":8.45,"d":76},{"p":8.45,"d":83},{"p":8.45,"d":90},{"p":8.45,"d":97},{"p":8.45,"d":104},{"p":8.45,"d":111},{"p":8.45,"d":118},{"p":8.45,"d":125},{"p":8.45,"d":132},{"p":8.45,"d":139},{"p":8.45,"d":146},{"p":8.45,"d":153},{"p":8.45,"d":160},
{"p":8.55,"d":75},{"p":8.55,"d":82},{"p":8.55,"d":89},{"p":8.55,"d":96},{"p":8.55,"d":103},{"p":8.55,"d":110},{"p":8.55,"d":117},{"p":8.55,"d":124},{"p":8.55,"d":131},{"p":8.55,"d":138},{"p":8.55,"d":145},{"p":8.55,"d":152},{"p":8.55,"d":159},
{"p":8.65,"d":77},{"p":8.65,"d":84},{"p":8.65,"d":91},{"p":8.65,"d":98},{"p":8.65,"d":105},{"p":8.65,"d":112},{"p":8.65,"d":119},{"p":8.65,"d":126},{"p":8.65,"d":133},{"p":8.65,"d":140},{"p":8.65,"d":147},{"p":8.65,"d":154},{"p":8.65,"d":160},
{"p":8.75,"d":76},{"p":8.75,"d":83},{"p":8.75,"d":90},{"p":8.75,"d":97},{"p":8.75,"d":104},{"p":8.75,"d":111},{"p":8.75,"d":118},{"p":8.75,"d":125},{"p":8.75,"d":132},{"p":8.75,"d":139},{"p":8.75,"d":146},{"p":8.75,"d":153},{"p":8.75,"d":160},
{"p":8.85,"d":79},{"p":8.85,"d":86},{"p":8.85,"d":93},{"p":8.85,"d":100},{"p":8.85,"d":107},{"p":8.85,"d":114},{"p":8.85,"d":121},{"p":8.85,"d":128},{"p":8.85,"d":135},{"p":8.85,"d":142},{"p":8.85,"d":149},{"p":8.85,"d":156},
{"p":8.95,"d":77},{"p":8.95,"d":84},{"p":8.95,"d":91},{"p":8.95,"d":98},{"p":8.95,"d":105},{"p":8.95,"d":112},{"p":8.95,"d":119},{"p":8.95,"d":126},{"p":8.95,"d":133},{"p":8.95,"d":140},{"p":8.95,"d":147},{"p":8.95,"d":154},
{"p":9.05,"d":80},{"p":9.05,"d":87},{"p":9.05,"d":94},{"p":9.05,"d":101},{"p":9.05,"d":108},{"p":9.05,"d":115},{"p":9.05,"d":122},{"p":9.05,"d":129},{"p":9.05,"d":136},{"p":9.05,"d":143},{"p":9.05,"d":150},{"p":9.05,"d":157},
{"p":9.15,"d":79},{"p":9.15,"d":86},{"p":9.15,"d":93},{"p":9.15,"d":100},{"p":9.15,"d":107},{"p":9.15,"d":114},{"p":9.15,"d":121},{"p":9.15,"d":128},{"p":9.15,"d":135},{"p":9.15,"d":142},{"p":9.15,"d":149},{"p":9.15,"d":156},
{"p":9.25,"d":82},{"p":9.25,"d":89},{"p":9.25,"d":96},{"p":9.25,"d":103},{"p":9.25,"d":110},{"p":9.25,"d":117},{"p":9.25,"d":124},{"p":9.25,"d":131},{"p":9.25,"d":138},{"p":9.25,"d":145},{"p":9.25,"d":152},
{"p":9.35,"d":81},{"p":9.35,"d":88},{"p":9.35,"d":95},{"p":9.35,"d":102},{"p":9.35,"d":109},{"p":9.35,"d":116},{"p":9.35,"d":123},{"p":9.35,"d":130},{"p":9.35,"d":137},{"p":9.35,"d":144},{"p":9.35,"d":151},
{"p":9.45,"d":84},{"p":9.45,"d":91},{"p":9.45,"d":98},{"p":9.45,"d":105},{"p":9.45,"d":112},{"p":9.45,"d":119},{"p":9.45,"d":126},{"p":9.45,"d":133},{"p":9.45,"d":140},{"p":9.45,"d":147},{"p":9.45,"d":154},
{"p":9.55,"d":83},{"p":9.55,"d":90},{"p":9.55,"d":97},{"p":9.55,"d":104},{"p":9.55,"d":111},{"p":9.55,"d":118},{"p":9.55,"d":125},{"p":9.55,"d":132},{"p":9.55,"d":139},{"p":9.55,"d":146},{"p":9.55,"d":153},
{"p":9.65,"d":86},{"p":9.65,"d":93},{"p":9.65,"d":100},{"p":9.65,"d":107},{"p":9.65,"d":114},{"p":9.65,"d":121},{"p":9.65,"d":128},{"p":9.65,"d":135},{"p":9.65,"d":142},{"p":9.65,"d":149},
{"p":9.75,"d":85},{"p":9.75,"d":92},{"p":9.75,"d":99},{"p":9.75,"d":106},{"p":9.75,"d":113},{"p":9.75,"d":120},{"p":9.75,"d":127},{"p":9.75,"d":134},{"p":9.75,"d":141},{"p":9.75,"d":148},
{"p":9.85,"d":88},{"p":9.85,"d":95},{"p":9.85,"d":102},{"p":9.85,"d":109},{"p":9.85,"d":116},{"p":9.85,"d":123},{"p":9.85,"d":130},{"p":9.85,"d":137},{"p":9.85,"d":144},
{"p":9.95,"d":90},{"p":9.95,"d":97},{"p":9.95,"d":104},{"p":9.95,"d":111},{"p":9.95,"d":118},{"p":9.95,"d":125},{"p":9.95,"d":132},{"p":9.95,"d":139},{"p":9.95,"d":146},
{"p":10.05,"d":92},{"p":10.05,"d":99},{"p":10.05,"d":106},{"p":10.05,"d":113},{"p":10.05,"d":120},{"p":10.05,"d":127},{"p":10.05,"d":134},{"p":10.05,"d":141},
{"p":10.15,"d":94},{"p":10.15,"d":101},{"p":10.15,"d":108},{"p":10.15,"d":115},{"p":10.15,"d":122},{"p":10.15,"d":129},{"p":10.15,"d":136},
{"p":10.25,"d":97},{"p":10.25,"d":104},{"p":10.25,"d":111},{"p":10.25,"d":118},{"p":10.25,"d":125},{"p":10.25,"d":132},{"p":10.25,"d":139},
{"p":10.35,"d":99},{"p":10.35,"d":106},{"p":10.35,"d":113},{"p":10.35,"d":120},{"p":10.35,"d":127},{"p":10.35,"d":134},
{"p":10.45,"d":102},{"p":10.45,"d":109},{"p":10.45,"d":116},{"p":10.45,"d":123},{"p":10.45,"d":130},
{"p":10.55,"d":103},{"p":10.55,"d":110},{"p":10.55,"d":117},{"p":10.55,"d":124},{"p":10.55,"d":131},
{"p":10.65,"d":106},{"p":10.65,"d":113},{"p":10.65,"d":120},{"p":10.65,"d":127},
{"p":10.75,"d":107},{"p":10.75,"d":114},{"p":10.75,"d":121},{"p":10.75,"d":128},
{"p":10.85,"d":110},{"p":10.85,"d":117},{"p":10.85,"d":124},
{"p":10.95,"d":112},{"p":10.95,"d":119},{"p":10.95,"d":126},
{"p":8.62,"d":163},{"p":8.86,"d":165},{"p":9.31,"d":160},{"p":9.5,"d":162},{"p":9.65,"d":158},{"p":9.87,"d":156},{"p":10.18,"d":154},{"p":10.45,"d":152},{"p":10.66,"d":150},{"p":10.93,"d":148},{"p":10.97,"d":147},{"p":11.53,"d":146},{"p":9.93,"d":144},{"p":10.35,"d":146},{"p":11.17,"d":105},{"p":11.38,"d":103},{"p":11.59,"d":101},{"p":11.84,"d":103},{"p":12,"d":105},{"p":11.4,"d":93},{"p":11.6,"d":93},{"p":11.1,"d":89},{"p":10.4,"d":86},{"p":10.6,"d":90},{"p":10.8,"d":92},{"p":10.9,"d":97},{"p":10.5,"d":92},{"p":11.3,"d":135},{"p":11.7,"d":132},{"p":12.2,"d":128},{"p":10.25,"d":82},{"p":10.05,"d":80},{"p":9.8,"d":76},{"p":11.05,"d":138},{"p":10.7,"d":140},{"p":11.9,"d":110},{"p":12.1,"d":114},
{"p":12.1,"d":121},{"p":12.2,"d":123},{"p":12.25,"d":119},{"p":12.3,"d":122},{"p":12.42,"d":122},{"p":12.5,"d":123},{"p":12.58,"d":121},{"p":12.63,"d":122},{"p":12.7,"d":121},{"p":12.76,"d":123},{"p":12.82,"d":120},{"p":12.88,"d":122},{"p":12.95,"d":121},{"p":13,"d":123},{"p":13.05,"d":120},{"p":13.12,"d":122},{"p":13.18,"d":119},{"p":13.25,"d":121},{"p":13.3,"d":123},{"p":13.36,"d":120},{"p":13.42,"d":122},{"p":13.5,"d":119},{"p":13.55,"d":121},{"p":13.6,"d":118},{"p":13.66,"d":122},{"p":13.72,"d":120},{"p":13.8,"d":119},{"p":13.87,"d":116},{"p":13.85,"d":120},{"p":14.02,"d":121},{"p":14.1,"d":120},{"p":14.18,"d":118},{"p":14.25,"d":121},{"p":14.3,"d":119},{"p":14.38,"d":120},{"p":14.45,"d":122},{"p":14.55,"d":121},{"p":14.6,"d":119},{"p":14.82,"d":122},{"p":14.88,"d":121},{"p":14.95,"d":123},{"p":15.02,"d":122},{"p":15.08,"d":119},{"p":15.15,"d":120},{"p":15.22,"d":119},{"p":15.3,"d":120},{"p":15.38,"d":121},{"p":15.45,"d":119},{"p":15.52,"d":120},{"p":15.6,"d":121},{"p":15.68,"d":120},{"p":15.75,"d":122},{"p":15.85,"d":122},{"p":15.92,"d":121},{"p":16,"d":122},{"p":16.08,"d":123},{"p":16.15,"d":122},{"p":16.22,"d":121},{"p":16.38,"d":120},{"p":16.5,"d":120},{"p":16.6,"d":121},{"p":16.8,"d":120}
],
"wind":[
{"p":2.15,"d":341},{"p":2.12,"d":300},{"p":2.35,"d":326},{"p":2.51,"d":331},{"p":2.32,"d":284},{"p":2.39,"d":238},{"p":2.58,"d":315},{"p":2.67,"d":316},{"p":2.68,"d":344},{"p":2.71,"d":335},{"p":2.74,"d":308},{"p":2.68,"d":278},{"p":2.67,"d":266},{"p":2.65,"d":257},{"p":2.75,"d":262},{"p":2.84,"d":266},{"p":2.97,"d":267},{"p":2.97,"d":252},{"p":2.97,"d":236},{"p":3.02,"d":236},{"p":3.1,"d":255},{"p":2.97,"d":275},{"p":3.13,"d":274},{"p":2.88,"d":321},{"p":2.9,"d":330},{"p":2.96,"d":312},{"p":2.89,"d":298},{"p":2.96,"d":298},{"p":2.96,"d":290},{"p":2.99,"d":285},{"p":3.06,"d":298},{"p":3.1,"d":302},{"p":3.17,"d":300},{"p":3.24,"d":298},{"p":3.13,"d":292},{"p":3.27,"d":290},{"p":3.04,"d":294},{"p":3.06,"d":333},{"p":3.1,"d":327},{"p":3.17,"d":323},{"p":3.27,"d":321},{"p":3.34,"d":325},{"p":3.24,"d":313},{"p":3.37,"d":313},{"p":3.31,"d":317},{"p":3.13,"d":313},{"p":3.11,"d":342},{"p":3.2,"d":346},{"p":3.24,"d":352},{"p":3.17,"d":358},{"p":3.27,"d":358},{"p":3.31,"d":356},{"p":3.41,"d":352},{"p":3.51,"d":358},{"p":3.51,"d":348},{"p":3.55,"d":342},{"p":3.48,"d":333},{"p":3.44,"d":327},{"p":3.64,"d":355},{"p":3.91,"d":357},{"p":3.96,"d":350},{"p":4,"d":351},{"p":3.41,"d":300},{"p":3.51,"d":310},{"p":3.51,"d":290},{"p":3.53,"d":287},{"p":3.58,"d":272},{"p":3.58,"d":255},{"p":3.66,"d":326},{"p":3.69,"d":312},{"p":3.79,"d":312},{"p":3.86,"d":318},{"p":3.89,"d":330},{"p":4.05,"d":324},{"p":4.05,"d":310},{"p":4.06,"d":298},{"p":3.84,"d":287},{"p":3.72,"d":219},{"p":3.37,"d":278},{"p":3.39,"d":247},{"p":3.33,"d":237},{"p":2.99,"d":235},{"p":3.12,"d":255},{"p":3.6,"d":302},{"p":3.71,"d":340},{"p":3.8,"d":305},{"p":3.45,"d":342},{"p":3.2,"d":333},{"p":3,"d":318},{"p":2.94,"d":305},{"p":3.38,"d":306},{"p":3.47,"d":322},{"p":3.25,"d":281},{"p":3.15,"d":281},{"p":3.05,"d":310},{"p":3.58,"d":320},{"p":3.3,"d":345},{"p":3.62,"d":335},{"p":3.02,"d":346},{"p":3.2,"d":307},{"p":3.42,"d":291},
{"p":3.4,"d":205},{"p":3.5,"d":200},{"p":3.55,"d":195},{"p":3.6,"d":188},{"p":3.65,"d":180},{"p":3.7,"d":172},{"p":3.45,"d":185},{"p":3.35,"d":195},{"p":3.3,"d":205},{"p":3.24,"d":206},{"p":3.17,"d":205},{"p":3.03,"d":205},{"p":2.89,"d":205},{"p":2.82,"d":201},{"p":2.75,"d":205},{"p":3.44,"d":201},{"p":3.6,"d":165},{"p":3.5,"d":170},{"p":3.4,"d":175},{"p":2.39,"d":183},{"p":2.51,"d":170},{"p":2.78,"d":171},{"p":2.81,"d":171},{"p":2.96,"d":183},{"p":3,"d":180},{"p":3.1,"d":195},{"p":3.2,"d":190},{"p":3.15,"d":175},{"p":3.3,"d":185},{"p":3.05,"d":165},{"p":3.25,"d":160},{"p":4.1,"d":206},{"p":4.3,"d":205},{"p":4.5,"d":203},{"p":4,"d":207},{"p":3.9,"d":208},
{"p":3.8,"d":172},{"p":3.8,"d":178},{"p":3.8,"d":184},{"p":3.8,"d":190},{"p":3.8,"d":196},{"p":3.8,"d":200},
{"p":3.9,"d":170},{"p":3.9,"d":176},{"p":3.9,"d":182},{"p":3.9,"d":188},{"p":3.9,"d":194},{"p":3.9,"d":200},
{"p":4,"d":168},{"p":4,"d":174},{"p":4,"d":180},{"p":4,"d":186},{"p":4,"d":192},{"p":4,"d":198},
{"p":4.1,"d":171},{"p":4.1,"d":177},{"p":4.1,"d":183},{"p":4.1,"d":189},{"p":4.1,"d":195},{"p":4.1,"d":201},
{"p":4.2,"d":168},{"p":4.2,"d":174},{"p":4.2,"d":180},{"p":4.2,"d":186},{"p":4.2,"d":192},{"p":4.2,"d":198},
{"p":4.3,"d":171},{"p":4.3,"d":177},{"p":4.3,"d":183},{"p":4.3,"d":189},{"p":4.3,"d":195},{"p":4.3,"d":200},
{"p":4.4,"d":168},{"p":4.4,"d":174},{"p":4.4,"d":180},{"p":4.4,"d":186},{"p":4.4,"d":192},{"p":4.4,"d":198},
{"p":4.5,"d":171},{"p":4.5,"d":177},{"p":4.5,"d":183},{"p":4.5,"d":189},{"p":4.5,"d":195},
{"p":4.6,"d":168},{"p":4.6,"d":174},{"p":4.6,"d":180},{"p":4.6,"d":186},{"p":4.6,"d":192},{"p":4.6,"d":197},
{"p":4.7,"d":170},{"p":4.7,"d":176},{"p":4.7,"d":182},{"p":4.7,"d":188},{"p":4.7,"d":194},
{"p":4.8,"d":168},{"p":4.8,"d":174},{"p":4.8,"d":180},{"p":4.8,"d":186},{"p":4.8,"d":192},{"p":4.8,"d":196},
{"p":4.9,"d":171},{"p":4.9,"d":177},{"p":4.9,"d":183},{"p":4.9,"d":189},{"p":4.9,"d":195},
{"p":5,"d":168},{"p":5,"d":174},{"p":5,"d":180},{"p":5,"d":186},{"p":5,"d":192},
{"p":5.1,"d":170},{"p":5.1,"d":176},{"p":5.1,"d":182},{"p":5.1,"d":188},{"p":5.1,"d":194},
{"p":5.2,"d":169},{"p":5.2,"d":175},{"p":5.2,"d":181},{"p":5.2,"d":187},{"p":5.2,"d":193},
{"p":5.3,"d":172},{"p":5.3,"d":178},{"p":5.3,"d":184},{"p":5.3,"d":190},
{"p":5.4,"d":170},{"p":5.4,"d":176},{"p":5.4,"d":182},{"p":5.4,"d":188},{"p":5.4,"d":192},
{"p":5.5,"d":172},{"p":5.5,"d":178},{"p":5.5,"d":184},{"p":5.5,"d":190},
{"p":5.6,"d":170},{"p":5.6,"d":176},{"p":5.6,"d":182},{"p":5.6,"d":188},
{"p":5.7,"d":173},{"p":5.7,"d":179},{"p":5.7,"d":185},{"p":5.7,"d":189},
{"p":5.8,"d":171},{"p":5.8,"d":177},{"p":5.8,"d":183},{"p":5.8,"d":188},
{"p":5.9,"d":174},{"p":5.9,"d":180},{"p":5.9,"d":186},
{"p":6,"d":172},{"p":6,"d":178},{"p":6,"d":184},
{"p":6.1,"d":175},{"p":6.1,"d":181},
{"p":6.2,"d":173},{"p":6.2,"d":179},{"p":6.2,"d":184},
{"p":6.35,"d":176},{"p":6.35,"d":182},
{"p":6.5,"d":174},{"p":6.5,"d":180},
{"p":6.7,"d":177},{"p":6.9,"d":175},
{"p":3.85,"d":174},{"p":3.85,"d":181},{"p":3.85,"d":188},{"p":3.85,"d":195},
{"p":3.95,"d":172},{"p":3.95,"d":179},{"p":3.95,"d":186},{"p":3.95,"d":193},{"p":3.95,"d":199},
{"p":4.05,"d":171},{"p":4.05,"d":178},{"p":4.05,"d":185},{"p":4.05,"d":192},{"p":4.05,"d":198},
{"p":4.15,"d":174},{"p":4.15,"d":180},{"p":4.15,"d":186},{"p":4.15,"d":192},{"p":4.15,"d":198},
{"p":4.25,"d":171},{"p":4.25,"d":177},{"p":4.25,"d":183},{"p":4.25,"d":189},{"p":4.25,"d":195},
{"p":4.35,"d":174},{"p":4.35,"d":180},{"p":4.35,"d":186},{"p":4.35,"d":192},{"p":4.35,"d":198},
{"p":4.45,"d":171},{"p":4.45,"d":177},{"p":4.45,"d":183},{"p":4.45,"d":189},{"p":4.45,"d":195},
{"p":4.55,"d":173},{"p":4.55,"d":179},{"p":4.55,"d":185},{"p":4.55,"d":191},
{"p":4.65,"d":171},{"p":4.65,"d":177},{"p":4.65,"d":183},{"p":4.65,"d":189},{"p":4.65,"d":195},
{"p":4.75,"d":173},{"p":4.75,"d":179},{"p":4.75,"d":185},{"p":4.75,"d":191},
{"p":4.85,"d":171},{"p":4.85,"d":177},{"p":4.85,"d":183},{"p":4.85,"d":189},
{"p":4.95,"d":173},{"p":4.95,"d":179},{"p":4.95,"d":185},{"p":4.95,"d":191},
{"p":5.05,"d":171},{"p":5.05,"d":177},{"p":5.05,"d":183},{"p":5.05,"d":189},
{"p":5.15,"d":173},{"p":5.15,"d":179},{"p":5.15,"d":185},{"p":5.15,"d":191},
{"p":5.25,"d":172},{"p":5.25,"d":178},{"p":5.25,"d":184},{"p":5.25,"d":190},
{"p":5.35,"d":174},{"p":5.35,"d":180},{"p":5.35,"d":186},
{"p":5.45,"d":173},{"p":5.45,"d":179},{"p":5.45,"d":185},{"p":5.45,"d":190},
{"p":5.55,"d":175},{"p":5.55,"d":181},{"p":5.55,"d":187},
{"p":5.65,"d":174},{"p":5.65,"d":180},{"p":5.65,"d":186},
{"p":5.75,"d":176},{"p":5.75,"d":182},
{"p":5.85,"d":174},{"p":5.85,"d":180},{"p":5.85,"d":186},
{"p":5.95,"d":177},{"p":5.95,"d":183},
{"p":2.61,"d":111},{"p":2.82,"d":110},{"p":2.9,"d":128},{"p":2.94,"d":149},{"p":3.13,"d":157},{"p":3.17,"d":137},{"p":3.24,"d":114},{"p":3.27,"d":129},{"p":3.34,"d":92},{"p":3.62,"d":112},{"p":3.62,"d":121},{"p":3.58,"d":125},{"p":3.51,"d":144},{"p":3.51,"d":160},{"p":3.55,"d":150},{"p":3.6,"d":140},{"p":3.75,"d":134},{"p":3.72,"d":138},{"p":3.82,"d":150},{"p":3.93,"d":146},{"p":3.99,"d":144},{"p":4.24,"d":148},{"p":4.2,"d":152},{"p":4.05,"d":155},{"p":4.2,"d":123},{"p":4.25,"d":118},{"p":4.15,"d":130},{"p":4.41,"d":150},{"p":4.45,"d":160},{"p":4.5,"d":140},{"p":4.6,"d":125},{"p":4.55,"d":110},{"p":4.7,"d":118},{"p":4.75,"d":122},{"p":4.8,"d":125},{"p":4.96,"d":115},{"p":5.24,"d":158},{"p":5.38,"d":117},{"p":5.51,"d":148},{"p":5.72,"d":152},{"p":5.76,"d":155},{"p":5.76,"d":113},{"p":5.9,"d":148},{"p":6.1,"d":150},{"p":6.2,"d":146},{"p":6.25,"d":148},{"p":6.45,"d":148},{"p":6.55,"d":146},{"p":6.76,"d":148},{"p":6.79,"d":135},{"p":6.93,"d":113},{"p":6.48,"d":115},{"p":7,"d":169},{"p":7.38,"d":154},{"p":7.48,"d":152},{"p":6.93,"d":149},{"p":6.83,"d":140},{"p":7.7,"d":150},{"p":4.3,"d":105},{"p":4.1,"d":104},{"p":4,"d":104},{"p":3.86,"d":148},{"p":3.9,"d":140},{"p":4.25,"d":160},{"p":4.55,"d":158},{"p":4.9,"d":160},{"p":5.05,"d":150},{"p":5.5,"d":165},{"p":6,"d":160},{"p":6.35,"d":165},{"p":5.3,"d":100},{"p":5,"d":95},{"p":5.6,"d":95},{"p":6,"d":102},{"p":6.3,"d":92},{"p":6.6,"d":95},{"p":7,"d":95},{"p":6.85,"d":100},{"p":6.2,"d":165},{"p":6.5,"d":160},{"p":6.6,"d":170},{"p":6.9,"d":165},
{"p":4,"d":35},{"p":4,"d":50},{"p":4,"d":65},{"p":4.08,"d":42},{"p":4.08,"d":57},{"p":4.08,"d":72},{"p":4.08,"d":80},{"p":4.16,"d":32},{"p":4.16,"d":47},{"p":4.16,"d":62},{"p":4.16,"d":77},{"p":4.24,"d":38},{"p":4.24,"d":53},{"p":4.24,"d":68},{"p":4.24,"d":82},{"p":4.32,"d":44},{"p":4.32,"d":59},{"p":4.32,"d":74},{"p":4.4,"d":36},{"p":4.4,"d":51},{"p":4.4,"d":66},{"p":4.4,"d":80},{"p":4.48,"d":45},{"p":4.48,"d":60},{"p":4.48,"d":75},
{"p":3.27,"d":29},{"p":3.35,"d":19},{"p":3.41,"d":9},{"p":3.44,"d":8},{"p":3.34,"d":67},{"p":3.37,"d":60},{"p":3.41,"d":46},{"p":3.44,"d":56},{"p":3.51,"d":44},{"p":3.51,"d":62},{"p":3.55,"d":52},{"p":3.62,"d":44},{"p":3.58,"d":19},{"p":3.65,"d":69},{"p":3.68,"d":92},{"p":3.75,"d":92},{"p":3.79,"d":96},{"p":3.75,"d":33},{"p":3.8,"d":31},{"p":3.78,"d":21},{"p":3.8,"d":17},{"p":3.99,"d":24},{"p":3.75,"d":62},{"p":3.86,"d":58},{"p":3.9,"d":52},{"p":3.99,"d":54},{"p":3.95,"d":65},{"p":3.85,"d":45},{"p":3.7,"d":75},{"p":3.6,"d":85},{"p":3.9,"d":88},{"p":3.95,"d":72},{"p":2.5,"d":25},{"p":2.61,"d":35},{"p":2.84,"d":33},{"p":3.07,"d":32},{"p":2.95,"d":45},{"p":2.95,"d":55},{"p":2.95,"d":73},{"p":2.95,"d":9},{"p":3.25,"d":18},{"p":3.3,"d":12},{"p":3.2,"d":42},{"p":3.15,"d":65},{"p":3.05,"d":80},{"p":3.1,"d":95},{"p":3.45,"d":80},{"p":3.5,"d":30},{"p":3.55,"d":35},{"p":3.62,"d":28},{"p":3.7,"d":40},{"p":3.72,"d":55},
{"p":4.55,"d":42},{"p":4.55,"d":58},{"p":4.55,"d":72},{"p":4.55,"d":88},{"p":4.62,"d":50},{"p":4.62,"d":65},{"p":4.62,"d":80},{"p":4.7,"d":40},{"p":4.7,"d":56},{"p":4.7,"d":70},{"p":4.7,"d":85},{"p":4.78,"d":47},{"p":4.78,"d":62},{"p":4.78,"d":78},{"p":4.78,"d":92},{"p":4.86,"d":52},{"p":4.86,"d":68},{"p":4.86,"d":84},{"p":4.94,"d":44},{"p":4.94,"d":59},{"p":4.94,"d":74},{"p":4.94,"d":89},{"p":5.02,"d":50},{"p":5.02,"d":65},{"p":5.02,"d":80},{"p":5.1,"d":46},{"p":5.1,"d":56},{"p":5.1,"d":72},{"p":5.1,"d":86},{"p":5.18,"d":52},{"p":5.18,"d":66},{"p":5.18,"d":80},{"p":5.26,"d":48},{"p":5.26,"d":60},{"p":5.26,"d":75},{"p":5.26,"d":90},{"p":5.34,"d":54},{"p":5.34,"d":68},{"p":5.34,"d":82},{"p":5.42,"d":50},{"p":5.42,"d":62},{"p":5.42,"d":76},{"p":5.5,"d":56},{"p":5.5,"d":70},{"p":5.5,"d":86},{"p":5.58,"d":52},{"p":5.58,"d":64},{"p":5.58,"d":80},{"p":5.66,"d":58},{"p":5.66,"d":72},{"p":5.66,"d":88},{"p":5.74,"d":55},{"p":5.74,"d":67},{"p":5.74,"d":82},{"p":5.82,"d":60},{"p":5.82,"d":74},{"p":5.82,"d":90},{"p":5.9,"d":57},{"p":5.9,"d":70},{"p":5.9,"d":84},{"p":5.98,"d":62},{"p":5.98,"d":76},{"p":6.06,"d":59},{"p":6.06,"d":72},{"p":6.06,"d":88},{"p":6.14,"d":64},{"p":6.14,"d":78},{"p":6.22,"d":60},{"p":6.22,"d":74},{"p":6.22,"d":86},{"p":6.3,"d":66},{"p":6.3,"d":80},{"p":6.4,"d":62},{"p":6.4,"d":76},{"p":6.4,"d":90},{"p":6.5,"d":68},{"p":6.5,"d":84},{"p":6.6,"d":64},{"p":6.6,"d":78},{"p":6.7,"d":72},{"p":6.7,"d":88},{"p":6.8,"d":66},{"p":6.8,"d":80},{"p":6.9,"d":74},{"p":6.9,"d":90},{"p":7,"d":70},{"p":7,"d":84},{"p":7.1,"d":76},{"p":7.2,"d":78},{"p":7.2,"d":88},{"p":7.28,"d":57},{"p":7.34,"d":90},{"p":7.38,"d":72},{"p":7.5,"d":82},{"p":7.6,"d":76},{"p":7.8,"d":79},{"p":7.81,"d":65},{"p":7.9,"d":80},{"p":8,"d":73},{"p":8.07,"d":67},{"p":8.31,"d":77},{"p":8.48,"d":78},{"p":8.6,"d":84},{"p":8.9,"d":82},{"p":8.95,"d":86},{"p":9,"d":88}
]
},
"layer":[
{"data":{"name":"swell"},
 "mark":{"type":"point","shape":"circle","filled":false,"size":46,"strokeWidth":1.8,"opacity":1},
 "encoding":{
  "x":{"field":"p","type":"quantitative","scale":{"domain":[2,20],"nice":false,"zero":false},
       "axis":{"orient":"bottom","values":[2,4,6,8,10,12,14,16,18,20],"format":"d","title":"Period, s","titleFontSize":24,"titleFontWeight":"normal","titleColor":"#262626","titleFont":"Liberation Sans","titlePadding":9,"labelFont":"Liberation Sans","labelFontSize":21,"labelColor":"#262626","labelPadding":23,"labelFlush":false,"labelOverlap":false,"tickSize":-9,"tickColor":"#404040","tickWidth":1,"domainColor":"#404040","domainWidth":1.2,"grid":false}},
  "y":{"field":"d","type":"quantitative","scale":{"domain":[0,360],"nice":false,"zero":false},
       "axis":{"orient":"left","values":[0,30,60,90,120,150,180,210,240,270,300,330,360],"format":"d","title":"Principle Direction, deg","titleFontSize":24,"titleFontWeight":"normal","titleColor":"#262626","titleFont":"Liberation Sans","titlePadding":5,"labelFont":"Liberation Sans","labelFontSize":21,"labelColor":"#262626","labelPadding":23,"labelFlush":false,"labelOverlap":false,"tickSize":-9,"tickColor":"#404040","tickWidth":1,"domainColor":"#404040","domainWidth":1.2,"grid":false}},
  "color":{"datum":"Swell","type":"nominal","scale":{"domain":["Swell","Wind Sea"],"range":["#0000ff","#ff0000"]},
       "legend":{"orient":"none","legendX":651,"legendY":17,"title":null,"strokeColor":"#404040","fillColor":"#ffffff","padding":8,"labelFont":"Liberation Sans","labelFontSize":21,"labelColor":"#000000","symbolOffset":26,"labelOffset":36,"rowPadding":5,"symbolSize":30,"symbolStrokeWidth":1.6,"symbolType":"circle"}}
 }},
{"data":{"name":"wind"},
 "mark":{"type":"point","shape":"circle","filled":false,"size":46,"strokeWidth":1.8,"opacity":1},
 "encoding":{
  "x":{"field":"p","type":"quantitative","axis":{"orient":"top","values":[2,4,6,8,10,12,14,16,18,20],"labels":false,"title":null,"minExtent":0,"maxExtent":0,"tickSize":-9,"tickColor":"#404040","tickWidth":1,"domainColor":"#404040","domainWidth":1.2,"grid":false}},
  "y":{"field":"d","type":"quantitative","axis":{"orient":"right","values":[0,30,60,90,120,150,180,210,240,270,300,330,360],"labels":false,"title":null,"minExtent":0,"maxExtent":0,"tickSize":-9,"tickColor":"#404040","tickWidth":1,"domainColor":"#404040","domainWidth":1.2,"grid":false}},
  "color":{"datum":"Wind Sea","type":"nominal"}
 }},
{"data":{"values":[{"d":90},{"d":180},{"d":270}]},
 "mark":{"type":"rule","strokeDash":[2,4],"color":"#262626","strokeWidth":1.3},
 "encoding":{"y":{"field":"d","type":"quantitative","axis":null}}}
],
"resolve":{"axis":{"x":"independent","y":"independent"}}
}
